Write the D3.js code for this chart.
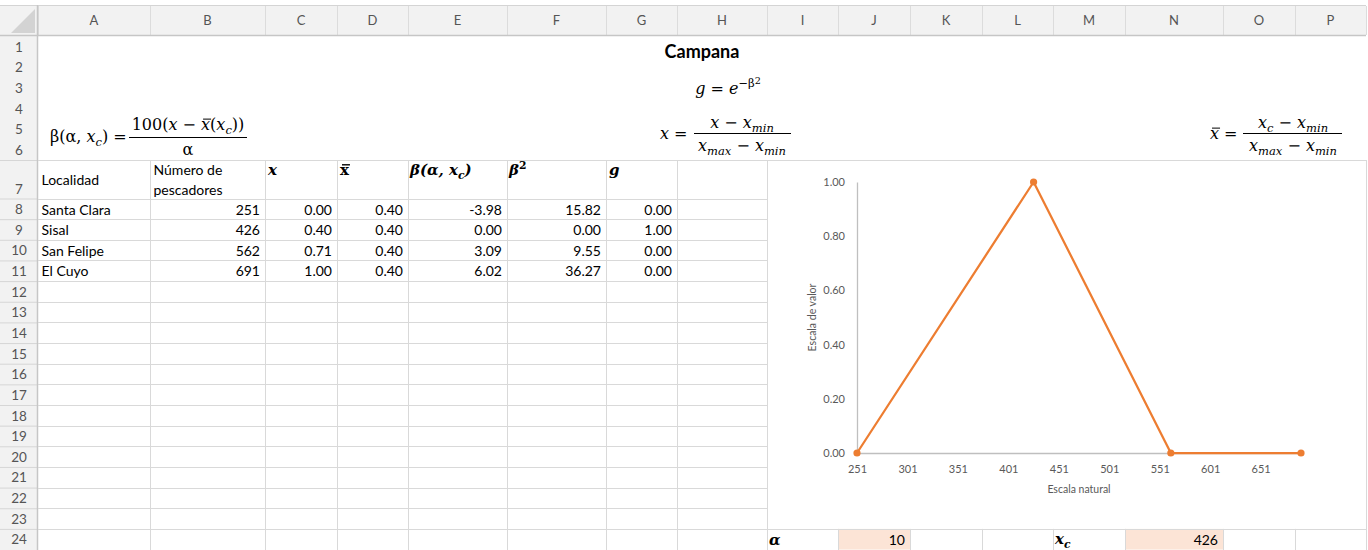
<!DOCTYPE html>
<html>
<head>
<meta charset="utf-8">
<script src="https://cdn.jsdelivr.net/npm/d3@7"></script>
<style>
  body { margin: 0; background: #fff; }
  svg { display: block; }
</style>
</head>
<body>
<svg id="sheet" width="1368" height="550"></svg>
<script>
// Sheet data
const colLetters = ["A","B","C","D","E","F","G","H","I","J","K","L","M","N","O","P"];
const localidades = ["Santa Clara", "Sisal", "San Felipe", "El Cuyo"];
const pescadores = [251, 426, 562, 691];
const xNorm = [0.00, 0.40, 0.71, 1.00];
const xBarVals = [0.40, 0.40, 0.40, 0.40];
const betaVals = [-3.98, 0.00, 3.09, 6.02];
const beta2Vals = [15.82, 0.00, 9.55, 36.27];
const gVals = [0.00, 1.00, 0.00, 0.00];
const alphaVal = 10;
const xcVal = 426;

// Chart axis ticks
const xTicks = [251, 301, 351, 401, 451, 501, 551, 601, 651];
const yTicks = [0, 0.2, 0.4, 0.6, 0.8, 1.0];

const svg = d3.select("#sheet");
const cellFont = "Lato, 'Open Sans', sans-serif";
const mathFont = "'DejaVu Serif', serif";
const gridColor = "#d9d9d9";

// Column edges (x) and row tops (y)
const colX = [38, 150, 265, 337, 408, 507, 606, 677, 767, 838, 910, 982, 1053, 1125, 1223, 1295, 1366];
function rowTop(r) {
  if (r <= 7) return 36 + (r - 1) * 20.67;
  return 198.5 + (r - 8) * 20.65;
}

// Headers background
svg.append("rect").attr("x", 0).attr("y", 0).attr("width", 1368).attr("height", 550).attr("fill", "#fff");
svg.append("rect").attr("x", 0).attr("y", 5).attr("width", 1366).attr("height", 31).attr("fill", "#f2f2f2");
svg.append("rect").attr("x", 0).attr("y", 36).attr("width", 38).attr("height", 514).attr("fill", "#f2f2f2");
svg.append("line").attr("x1", 0).attr("x2", 1366).attr("y1", 5.5).attr("y2", 5.5).attr("stroke", "#d4d4d4");

// corner triangle
svg.append("path").attr("d", "M11,33 L35,33 L35,9 Z").attr("fill", "#d3d3d3");

// column header separators + letters
colX.forEach(x => {
  svg.append("line").attr("x1", x + 0.5).attr("x2", x + 0.5).attr("y1", 6).attr("y2", 35).attr("stroke", "#dcdcdc");
});
colLetters.forEach((c, i) => {
  svg.append("text")
    .attr("x", (colX[i] + colX[i + 1]) / 2)
    .attr("y", 25)
    .attr("text-anchor", "middle")
    .attr("font-family", cellFont)
    .attr("font-size", 13)
    .attr("fill", "#555")
    .text(c);
});

// row header numbers
for (let r = 1; r <= 24; r++) {
  const top = rowTop(r), bot = rowTop(r + 1);
  svg.append("text")
    .attr("x", 19)
    .attr("y", r === 7 ? bot - 5 : top + 15.5)
    .attr("text-anchor", "middle")
    .attr("font-family", cellFont)
    .attr("font-size", 13.5)
    .attr("fill", "#555")
    .text(r);
  if (r >= 7) {
    svg.append("line").attr("x1", 0).attr("x2", 38).attr("y1", top + 0.5).attr("y2", top + 0.5).attr("stroke", "#d6d6d6");
  }
}

// header borders
svg.append("line").attr("x1", 0).attr("x2", 1366).attr("y1", 35.5).attr("y2", 35.5).attr("stroke", "#c6c6c6").attr("stroke-width", 1.5);
svg.append("line").attr("x1", 37.5).attr("x2", 37.5).attr("y1", 5).attr("y2", 550).attr("stroke", "#c6c6c6").attr("stroke-width", 1.5);

// peach input cells
[9, 13].forEach(ci => {
  svg.append("rect")
    .attr("x", colX[ci]).attr("y", rowTop(24))
    .attr("width", colX[ci + 1] - colX[ci]).attr("height", rowTop(25) - rowTop(24))
    .attr("fill", "#fce4d6");
});

// gridlines
const grid = svg.append("g").attr("stroke", gridColor).attr("stroke-width", 1);
grid.append("line").attr("x1", 38).attr("x2", 1366).attr("y1", rowTop(7) + 0.5).attr("y2", rowTop(7) + 0.5);
for (let r = 8; r <= 25; r++) {
  const y = Math.round(rowTop(r)) + 0.5;
  grid.append("line").attr("x1", 38).attr("x2", r >= 24 ? 1366 : colX[8]).attr("y1", y).attr("y2", y);
}
colX.forEach((x, i) => {
  if (i === 0) return;
  const y1 = (i <= 8 || i === 16) ? rowTop(7) : rowTop(24);
  grid.append("line").attr("x1", x + 0.5).attr("x2", x + 0.5).attr("y1", y1).attr("y2", 550);
});

// math text helper: segs = [text, flags]; flags: i italic, _ sub, ^ sup, ^^ sup of sup, - overbar
function mathText(x, y, segs, size, anchor, weight) {
  const t = svg.append("text")
    .attr("x", x).attr("y", y)
    .attr("font-family", mathFont)
    .attr("font-size", size)
    .attr("font-weight", weight || "normal")
    .attr("text-anchor", anchor || "start")
    .attr("fill", "#000");
  let cur = 0, idx = 0;
  const bars = [];
  segs.forEach(([s, f]) => {
    let shift = 0, fs = size;
    if (f.includes("_")) { shift = size * 0.28; fs = size * 0.72; }
    if (f.includes("^")) { shift = -size * 0.42; fs = size * 0.72; }
    if (f.includes("^^")) { shift = -size * 0.62; fs = size * 0.6; }
    t.append("tspan")
      .attr("dy", shift - cur)
      .attr("font-size", fs)
      .attr("font-style", f.includes("i") ? "italic" : "normal")
      .text(s);
    if (f.includes("-")) bars.push({ start: idx, end: idx + s.length - 1, shift, fs });
    cur = shift;
    idx += s.length;
  });
  const node = t.node();
  bars.forEach(b => {
    const x0 = node.getStartPositionOfChar(b.start).x;
    const x1 = node.getEndPositionOfChar(b.end).x;
    const by = y + b.shift - b.fs * 0.68;
    svg.append("line")
      .attr("x1", x0 + 2).attr("x2", x1 + 1)
      .attr("y1", by).attr("y2", by)
      .attr("stroke", "#000").attr("stroke-width", weight === "bold" ? 1.4 : 1);
  });
  return t;
}
function fracBar(x1, x2, y) {
  svg.append("line").attr("x1", x1).attr("x2", x2).attr("y1", y).attr("y2", y).attr("stroke", "#000").attr("stroke-width", 1);
}

// Title and formulas
svg.append("text")
  .attr("x", 702).attr("y", 58)
  .attr("text-anchor", "middle")
  .attr("font-family", cellFont)
  .attr("font-weight", "bold")
  .attr("font-size", 18)
  .text("Campana");

mathText(728, 94, [["g", "i"], [" = ", ""], ["e", "i"], ["−β", "^"], ["2", "^^"]], 16, "middle");

// beta formula
mathText(50, 142, [["β(α, ", ""], ["x", "i"], ["c", "i_"], [") =", ""]], 16, "start");
mathText(188, 130, [["100(", ""], ["x", "i"], [" − ", ""], ["x", "i-"], ["(", ""], ["x", "i"], ["c", "i_"], ["))", ""]], 16, "middle");
fracBar(129, 247, 137.5);
mathText(188, 155, [["α", ""]], 16, "middle");

// x formula
mathText(660, 139, [["x", "i"], [" =", ""]], 16, "start");
mathText(742, 128, [["x", "i"], [" − ", ""], ["x", "i"], ["min", "i_"]], 16, "middle");
fracBar(694, 791, 133.5);
mathText(742, 151, [["x", "i"], ["max", "i_"], [" − ", ""], ["x", "i"], ["min", "i_"]], 16, "middle");

// x bar formula
mathText(1210, 139, [["x", "i-"], [" =", ""]], 16, "start");
mathText(1293, 128, [["x", "i"], ["c", "i_"], [" − ", ""], ["x", "i"], ["min", "i_"]], 16, "middle");
fracBar(1243, 1342, 133.5);
mathText(1293, 151, [["x", "i"], ["max", "i_"], [" − ", ""], ["x", "i"], ["min", "i_"]], 16, "middle");

// Table headers (row 7)
function cellText(ci, y, txt, align) {
  const right = align === "right";
  svg.append("text")
    .attr("x", right ? colX[ci + 1] - 5 : colX[ci] + 3.5)
    .attr("y", y)
    .attr("text-anchor", right ? "end" : "start")
    .attr("font-family", cellFont)
    .attr("font-size", 14)
    .attr("fill", "#000")
    .text(txt);
}
cellText(0, 185, "Localidad");
cellText(1, 175, "Número de");
cellText(1, 195, "pescadores");
mathText(colX[2] + 3, 175, [["x", "i"]], 15, "start", "bold");
mathText(colX[3] + 3, 175, [["x", "-"]], 15, "start", "bold");
mathText(colX[4] + 2, 175, [["β(α, ", "i"], ["x", "i"], ["c", "i_"], [")", "i"]], 15, "start", "bold");
mathText(colX[5] + 2, 175, [["β", "i"], ["2", "^"]], 15, "start", "bold");
mathText(colX[6] + 3, 175, [["g", "i"]], 15, "start", "bold");

// Table rows (Excel uses a plain hyphen for negatives)
const f2 = v => d3.format(".2f")(v).replace("−", "-");
localidades.forEach((loc, i) => {
  const y = rowTop(8 + i) + 16;
  cellText(0, y, loc);
  cellText(1, y, pescadores[i], "right");
  cellText(2, y, f2(xNorm[i]), "right");
  cellText(3, y, f2(xBarVals[i]), "right");
  cellText(4, y, f2(betaVals[i]), "right");
  cellText(5, y, f2(beta2Vals[i]), "right");
  cellText(6, y, f2(gVals[i]), "right");
});

// Row 24 parameters
const y24 = rowTop(24) + 16;
mathText(colX[8] + 2, y24, [["α", "i"]], 15, "start", "bold");
cellText(9, y24, alphaVal, "right");
mathText(colX[12] + 2, y24 - 1, [["x", "i"], ["c", "i_"]], 15, "start", "bold");
cellText(13, y24, xcVal, "right");

// Chart
const chart = svg.append("g");
const xScale = d3.scaleLinear().domain([251, 691]).range([857, 1301]);
const yScale = d3.scaleLinear().domain([0, 1]).range([453, 182]);
const chartFont = cellFont;
const axisColor = "#bfbfbf";
const labelColor = "#595959";

const yAxis = chart.append("g")
  .attr("transform", `translate(${xScale(251)},0)`)
  .call(d3.axisLeft(yScale).tickValues(yTicks).tickFormat(d3.format(".2f")).tickSize(0).tickPadding(12));
const xAxis = chart.append("g")
  .attr("transform", `translate(0,${yScale(0)})`)
  .call(d3.axisBottom(xScale).tickValues(xTicks).tickFormat(d3.format("d")).tickSize(0).tickPadding(12));
[yAxis, xAxis].forEach(a => {
  a.select(".domain").attr("stroke", axisColor).attr("stroke-width", 1.3);
  a.selectAll("text").attr("font-family", chartFont).attr("font-size", 11).attr("fill", labelColor);
});

chart.append("text")
  .attr("transform", `translate(816,${(yScale(0) + yScale(1)) / 2}) rotate(-90)`)
  .attr("text-anchor", "middle")
  .attr("font-family", chartFont)
  .attr("font-size", 10.5)
  .attr("fill", labelColor)
  .text("Escala de valor");
chart.append("text")
  .attr("x", (xScale.range()[0] + xScale.range()[1]) / 2)
  .attr("y", 493)
  .attr("text-anchor", "middle")
  .attr("font-family", chartFont)
  .attr("font-size", 10.5)
  .attr("fill", labelColor)
  .text("Escala natural");

const pts = pescadores.map((p, i) => ({ n: p, g: gVals[i] }));
const line = d3.line().x(d => xScale(d.n)).y(d => yScale(d.g));
chart.append("path")
  .datum(pts)
  .attr("d", line)
  .attr("fill", "none")
  .attr("stroke", "#ed7d31")
  .attr("stroke-width", 2.25)
  .attr("stroke-linejoin", "round");
chart.selectAll("circle.pt")
  .data(pts)
  .enter()
  .append("circle")
  .attr("class", "pt")
  .attr("cx", d => xScale(d.n))
  .attr("cy", d => yScale(d.g))
  .attr("r", 3.6)
  .attr("fill", "#ed7d31");
</script>
</body>
</html>
